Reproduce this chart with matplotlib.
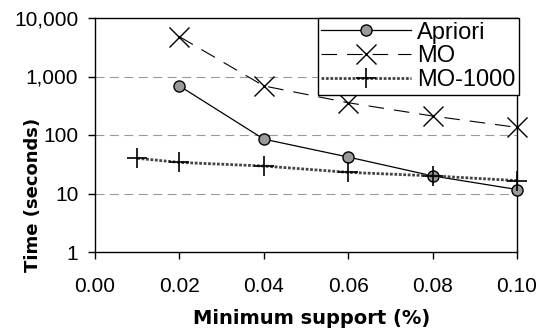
import matplotlib.pyplot as plt
from matplotlib.ticker import FuncFormatter, FixedLocator

# Minimum support (%) values and run times in seconds
support_apriori = [0.02, 0.04, 0.06, 0.08, 0.10]
time_apriori = [690, 85, 42, 20, 11.7]

support_mo = [0.02, 0.04, 0.06, 0.08, 0.10]
time_mo = [4800, 690, 356, 211, 135]

support_mo1000 = [0.01, 0.02, 0.04, 0.06, 0.08, 0.10]
time_mo1000 = [40, 34, 29.5, 23, 20, 16.6]

x_ticks = [0.00, 0.02, 0.04, 0.06, 0.08, 0.10]
y_ticks = [1, 10, 100, 1000, 10000]

plt.rcParams['font.family'] = ['Liberation Sans', 'DejaVu Sans']

W, H = 547, 335
fig = plt.figure(figsize=(W / 100, H / 100), dpi=100)
ax = fig.add_axes([95 / W, 1 - 252 / H, (517 - 95) / W, (252 - 18) / H])

ax.plot(support_apriori, time_apriori, color='black', lw=0.9, marker='o',
        markersize=8, markerfacecolor='#999999', markeredgecolor='black',
        markeredgewidth=1.0, label='Apriori', zorder=3, clip_on=False)
ax.plot(support_mo, time_mo, color='black', lw=0.8, linestyle=(0, (14, 9)),
        marker='x', markersize=14, markeredgewidth=1.0, label='MO', zorder=3,
        clip_on=False)
ax.plot(support_mo1000, time_mo1000, color='#444444', lw=2.0,
        linestyle=(0, (1, 0.6)), marker='+', markersize=15,
        markeredgecolor='black', markeredgewidth=1.2, label='MO-1000', zorder=3,
        clip_on=False)

ax.set_yscale('log')
ax.set_ylim(1, 10000)
ax.set_xlim(0, 0.10)
ax.yaxis.set_major_locator(FixedLocator(y_ticks))
ax.yaxis.set_minor_locator(FixedLocator([]))
ax.yaxis.set_major_formatter(FuncFormatter(lambda v, p: f'{int(round(v)):,}'))
ax.xaxis.set_major_locator(FixedLocator(x_ticks))
ax.xaxis.set_major_formatter(FuncFormatter(lambda v, p: f'{v:.2f}'))

for y in y_ticks[1:-1]:
    ax.axhline(y, color='#999999', lw=0.8, linestyle=(0, (8, 5)), zorder=1)

ax.tick_params(axis='both', direction='out', length=5, width=1, labelsize=15,
               colors='black')
ax.tick_params(axis='y', pad=7)
ax.tick_params(axis='x', pad=13)
for s in ax.spines.values():
    s.set_linewidth(1.0)
    s.set_color('black')

fig.text(312 / W, 1 - 318 / H, 'Minimum support (%)', ha='center', va='center',
         fontsize=14, fontweight='bold', family='DejaVu Sans')
fig.text(33 / W, 1 - 195 / H, 'Time (seconds)', ha='center', va='center',
         rotation=90, fontsize=13, fontweight='bold', family='DejaVu Sans')

leg = ax.legend(loc='upper right', bbox_to_anchor=(519 / W, 1 - 18 / H),
                bbox_transform=fig.transFigure, fontsize=17, frameon=True,
                fancybox=False, edgecolor='black', framealpha=1,
                borderpad=0.15, labelspacing=0.08, handlelength=3.8,
                handletextpad=0.25, borderaxespad=0)
leg.get_frame().set_linewidth(1.0)

fig.savefig('out.png', dpi=100)
